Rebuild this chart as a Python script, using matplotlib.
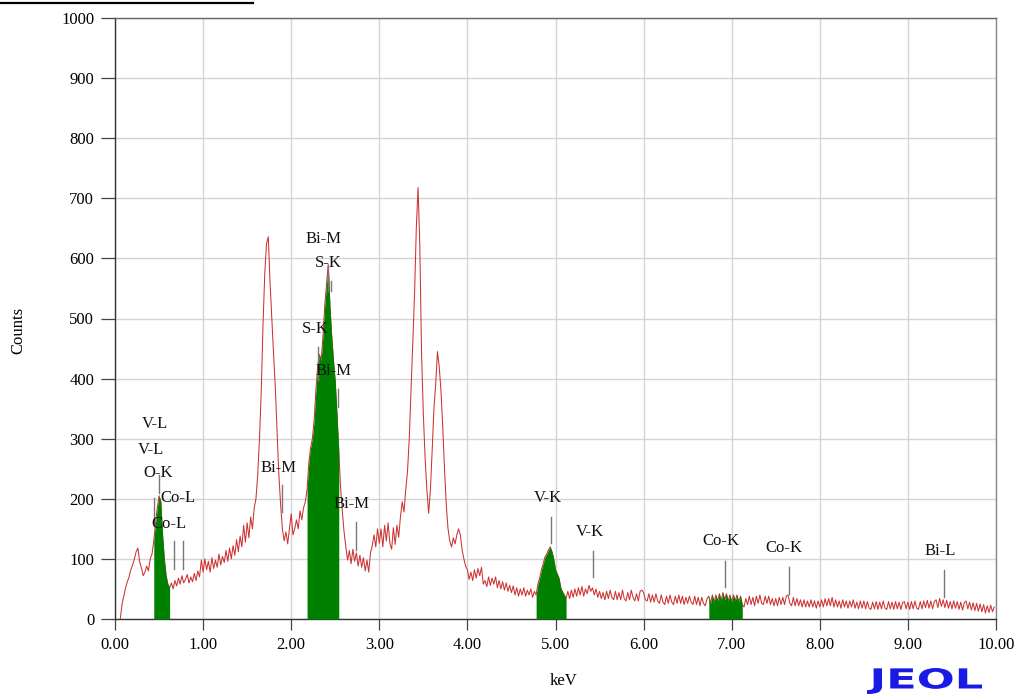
import numpy as np
import matplotlib
matplotlib.use("Agg")
import matplotlib.pyplot as plt
from matplotlib.lines import Line2D
from matplotlib.textpath import TextPath
from matplotlib.patches import PathPatch
from matplotlib.font_manager import FontProperties
from matplotlib.transforms import Affine2D

nan = np.nan
# ---------------- data ----------------
channel_step_kev = 0.02
counts = [
    # 0.00 - 0.48
    nan, nan, nan, 0, 25, 38, 52, 62, 70, 82, 90, 100, 112, 118, 95, 85, 72, 78, 88, 80, 100, 108, 130, 160, 185,
    # 0.50 - 0.98
    205, 195, 140, 100, 72, 58, 52, 60, 50, 64, 55, 68, 58, 72, 60, 66, 74, 60, 70, 62, 76, 64, 80, 70, 98,
    # 1.00 - 1.48
    78, 100, 82, 96, 78, 102, 84, 98, 86, 108, 90, 104, 94, 114, 96, 118, 100, 122, 106, 132, 112, 138, 120, 156, 128,
    # 1.50 - 1.98
    160, 135, 170, 150, 185, 200, 240, 300, 380, 490, 575, 625, 636, 560, 500, 440, 385, 310, 240, 190, 150, 130, 145, 125, 150,
    # 2.00 - 2.48
    175, 140, 150, 165, 150, 180, 165, 185, 195, 215, 260, 285, 300, 330, 380, 420, 440, 430, 470, 520, 555, 590, 520, 470, 430,
    # 2.50 - 2.98
    395, 340, 280, 220, 180, 145, 120, 98, 114, 92, 116, 96, 110, 88, 106, 86, 102, 80, 98, 78, 110, 122, 140, 120, 150,
    # 3.00 - 3.48
    126, 150, 120, 156, 130, 160, 126, 116, 152, 124, 156, 136, 170, 195, 178, 215, 245, 300, 380, 460, 540, 650, 718, 620, 440,
    # 3.50 - 3.98
    340, 268, 215, 176, 215, 280, 350, 390, 445, 420, 380, 320, 250, 190, 150, 130, 120, 135, 125, 140, 150, 140, 115, 100, 88,
    # 4.00 - 4.48
    82, 66, 78, 64, 82, 68, 84, 72, 86, 58, 64, 54, 70, 56, 68, 58, 70, 52, 64, 50, 62, 48, 60, 46, 56,
    # 4.50 - 4.98
    44, 55, 40, 52, 38, 50, 40, 52, 38, 48, 40, 50, 36, 46, 40, 58, 68, 82, 92, 103, 108, 115, 120, 112, 100,
    # 5.00 - 5.48
    82, 75, 68, 52, 45, 40, 34, 46, 34, 48, 36, 50, 38, 52, 40, 54, 38, 50, 42, 56, 46, 52, 40, 50, 36,
    # 5.50 - 5.98
    46, 34, 44, 32, 46, 34, 48, 36, 32, 46, 32, 44, 32, 48, 34, 30, 44, 32, 48, 36, 30, 42, 30, 46, 48,
    # 6.00 - 6.48
    44, 32, 30, 42, 28, 40, 28, 42, 30, 26, 40, 28, 24, 38, 26, 40, 28, 24, 38, 26, 40, 26, 38, 24, 36,
    # 6.50 - 6.98
    26, 38, 28, 24, 38, 24, 36, 22, 36, 26, 22, 34, 38, 26, 40, 28, 40, 30, 42, 30, 44, 32, 42, 30, 40,
    # 7.00 - 7.48
    28, 40, 30, 40, 28, 38, 24, 20, 34, 24, 38, 24, 36, 22, 38, 26, 40, 26, 24, 38, 26, 38, 24, 34, 22,
    # 7.50 - 7.98
    34, 22, 36, 24, 36, 24, 38, 40, 26, 22, 36, 22, 34, 22, 32, 20, 32, 20, 30, 20, 32, 20, 30, 18, 30,
    # 8.00 - 8.48
    20, 32, 20, 34, 22, 34, 22, 36, 20, 32, 20, 30, 18, 32, 20, 30, 18, 30, 20, 32, 18, 28, 17, 30, 18,
    # 8.50 - 8.98
    30, 17, 29, 18, 16, 28, 17, 29, 16, 28, 17, 30, 18, 16, 29, 17, 28, 16, 29, 17, 28, 16, 27, 29, 17,
    # 9.00 - 9.48
    28, 16, 29, 17, 30, 18, 16, 29, 17, 30, 19, 31, 18, 30, 17, 29, 32, 19, 34, 21, 32, 19, 31, 18, 29,
    # 9.50 - 9.98
    17, 30, 18, 29, 16, 28, 15, 27, 30, 17, 28, 15, 27, 14, 26, 13, 25, 12, 24, 10, 22, 11, 23, 12, 20,
]
energy = np.round(np.arange(len(counts)) * channel_step_kev, 2)
counts = np.array(counts, dtype=float)

# highlighted (green) regions of interest, keV
roi_ranges = [(0.44, 0.62), (2.18, 2.54), (4.78, 5.12), (6.74, 7.12)]

# peak identification labels
peak_names = ["V-L", "V-L", "O-K", "Co-L", "Co-L", "Bi-M", "Bi-M", "S-K", "S-K", "Bi-M",
              "Bi-M", "V-K", "V-K", "Co-K", "Co-K", "Bi-L"]
# label anchor (keV, counts) – text baseline centre
label_kev = [0.457, 0.412, 0.486, 0.713, 0.613, 1.859, 2.372, 2.427, 2.276, 2.482,
             2.690, 4.919, 5.392, 6.876, 7.594, 9.368]
label_cnt = [318, 275, 236, 194, 151, 245, 626, 585, 476, 406,
             184, 195, 138, 123, 112, 107]

# marker lines (keV, bottom counts, top counts)
marker_kev = [0.44, 0.505, 0.666, 0.768, 1.892, 2.30, 2.418, 2.452, 2.528, 2.736,
              4.953, 5.425, 6.925, 7.65, 9.41]
marker_lo = [156, 210, 84, 84, 178, 398, 545, 545, 353, 115, 126, 70, 53, 41, 37]
marker_hi = [201, 240, 129, 129, 223, 453, 587, 562, 383, 161, 170, 113, 96, 87, 82]

x_ticks = np.arange(0, 11, 1)
y_ticks = np.arange(0, 1100, 100)

# ---------------- figure ----------------
W, H = 1021, 698
fig = plt.figure(figsize=(W / 100, H / 100), dpi=100)
plt.rcParams['font.family'] = ['Liberation Serif', 'DejaVu Serif']
ax = fig.add_axes([115 / W, 1 - 619 / H, (996 - 115) / W, (619 - 18) / H])

ax.set_xlim(0, 10)
ax.set_ylim(0, 1000)
ax.set_xticks(x_ticks)
ax.set_yticks(y_ticks)
ax.set_xticklabels([f"{v:.2f}" for v in x_ticks])
ax.set_yticklabels([f"{v:d}" for v in y_ticks])
ax.grid(True, color='#d4d4d4', lw=1.0, zorder=0)
ax.set_axisbelow(True)

for s in ['left', 'bottom']:
    ax.spines[s].set_color('#333333')
    ax.spines[s].set_linewidth(1.0)
ax.spines['top'].set_color('#666666')
ax.spines['right'].set_color('#888888')
ax.spines['top'].set_linewidth(1.0)
ax.spines['right'].set_linewidth(1.0)

ax.tick_params(axis='y', direction='out', length=10, width=0.9, color='#444444',
               labelsize=12, pad=5)
ax.tick_params(axis='x', direction='out', length=8, width=0.9, color='#444444',
               labelsize=12, pad=5)

ax.plot(energy, counts, color='#cc3333', lw=0.75, zorder=3)

for lo, hi in roi_ranges:
    mask = (energy >= lo - 1e-9) & (energy <= hi + 1e-9)
    ax.fill_between(energy, 0, counts, where=mask, color='#008000', lw=0, zorder=4)

for xk, y0, y1 in zip(marker_kev, marker_lo, marker_hi):
    ax.plot([xk, xk], [y0, y1], color='#777777', lw=1.0, zorder=5)

for name, xk, yc in zip(peak_names, label_kev, label_cnt):
    ax.text(xk, yc, name, ha='center', va='baseline', fontsize=12, color='#111111', zorder=6)

fig.text(18 / W, 1 - 330 / H, "Counts", rotation=90, ha='center', va='center', fontsize=12)
fig.text(563 / W, 1 - 681 / H, "keV", ha='center', va='center', fontsize=12)

# top-left rule
fig.add_artist(Line2D([0, 253 / W], [1 - 3 / H, 1 - 3 / H], transform=fig.transFigure,
                      color='black', lw=1.6))

# JEOL logo
fp = FontProperties(family='DejaVu Sans', weight='bold')
tp = TextPath((0, 0), "JEOL", size=100, prop=fp)
bb = tp.get_extents()
tr = (Affine2D().translate(-bb.x0, -bb.y0)
      .scale(115 / bb.width, 26 / bb.height)
      .translate(867, H - 694)
      .scale(1 / W, 1 / H))
logo = PathPatch(tr.transform_path(tp), transform=fig.transFigure, color='#1a1ae6', lw=0)
fig.add_artist(logo)

fig.savefig("out.png", dpi=100)
